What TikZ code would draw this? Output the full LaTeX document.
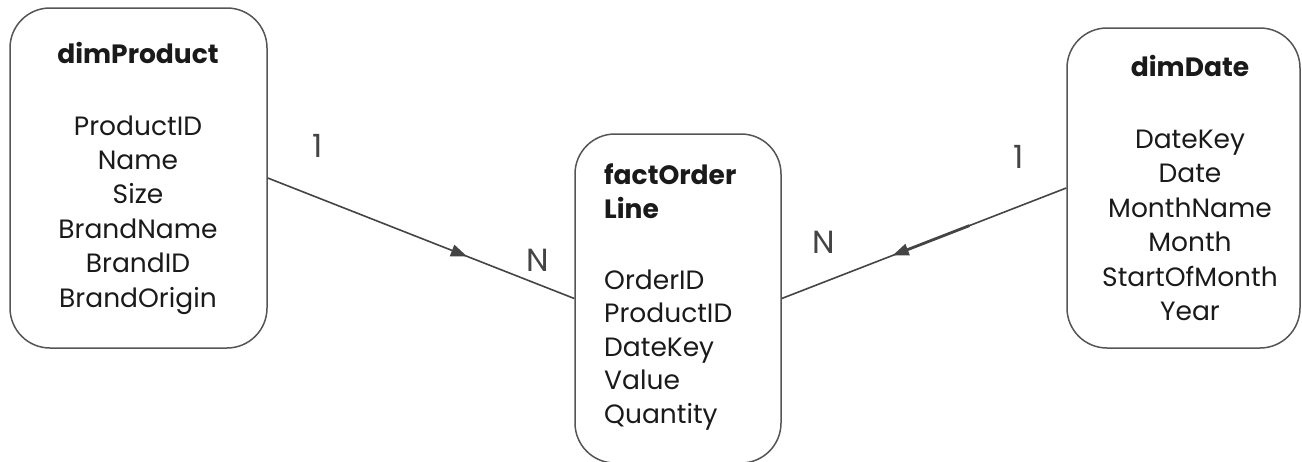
\documentclass[tikz,border=0pt]{standalone}
\usepackage{fontspec}
\setmainfont{Poppins}
\usetikzlibrary{decorations.markings,arrows.meta}
\definecolor{edgegrey}{HTML}{444444}
\definecolor{framegrey}{HTML}{555555}
\definecolor{ink}{HTML}{1A1A1A}
\begin{document}
\begin{tikzpicture}[x=1pt,y=-1pt,
  tablebox/.style={draw=framegrey, line width=1.5pt, rounded corners=40pt, inner sep=0pt},
  fields/.style={inner sep=0pt, text=ink, font=\fontsize{26.5}{34.4}\selectfont},
  rel/.style={draw=edgegrey, line width=1.6pt},
  card/.style={text=edgegrey, font=\fontsize{32}{32}\selectfont, inner sep=0pt},
  midarrow/.style={postaction={decorate}, decoration={markings,
      mark=at position #1 with {\arrow{Triangle[length=16pt,width=12pt]}}}}
]
\useasboundingbox (0,0) rectangle (1302,461);

% tables
\node[tablebox, minimum width=257pt, minimum height=340pt] (prod) at (138.5,178) {};
\node[tablebox, minimum width=206pt, minimum height=329pt] (fact) at (678,298.5) {};
\node[tablebox, minimum width=233pt, minimum height=320pt] (date) at (1183.5,188) {};

% table contents
\node[fields, align=center] (prodtxt) at (138,178)
  {\textbf{dimProduct}\\[37.6pt]ProductID\\Name\\Size\\BrandName\\BrandID\\BrandOrigin};
\node[fields, align=left, anchor=west, font=\fontsize{26.5}{33.4}\selectfont] (facttxt) at (604,297)
  {\textbf{factOrder}\\[0pt]\textbf{Line}\\[38pt]OrderID\\ProductID\\DateKey\\Value\\Quantity};
\node[fields, align=center] (datetxt) at (1190,188)
  {\textbf{dimDate}\\[37.6pt]DateKey\\Date\\MonthName\\Month\\StartOfMonth\\Year};

% relationships
\draw[rel, midarrow=0.65] (prod.east) -- (fact.west);
\draw[rel, midarrow=0.61] (date.west) -- (fact.east);
\path (date.west) -- (fact.east) coordinate[pos=0.34] (thickA) coordinate[pos=0.56] (thickB);
\draw[edgegrey, line width=2.8pt] (thickA) -- (thickB);

% cardinalities
\node[card] (c1) at (318,146) {1};
\node[card] (cn) at (538,260) {N};
\node[card] (d1) at (1019,157) {1};
\node[card] (dn) at (824,242) {N};
\end{tikzpicture}
\end{document}
